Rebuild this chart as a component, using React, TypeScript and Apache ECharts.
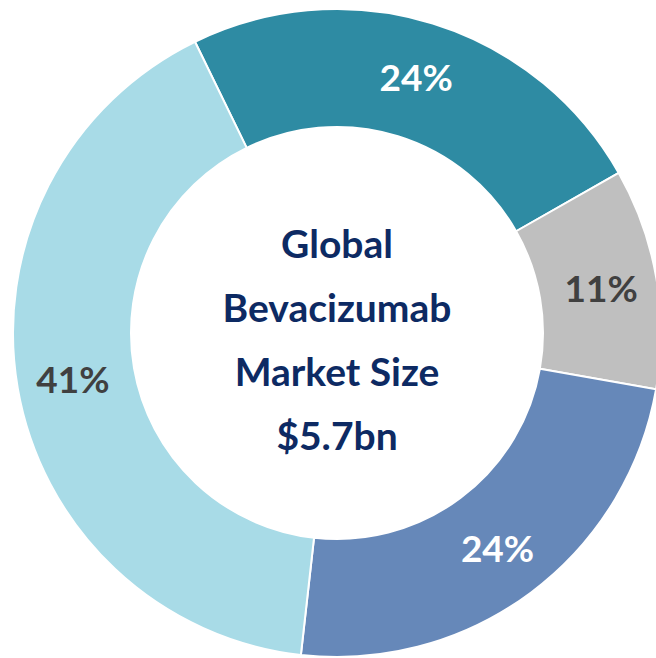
import React, { useEffect, useRef } from "react";
import * as echarts from "echarts";

const categories = ["Segment A", "Segment B", "Segment C", "Segment D"];
const values = [24, 11, 24, 41];
const sliceColors = ["#2E8BA3", "#BFBFBF", "#6688B9", "#A8DBE7"];
const labelColors = ["#FFFFFF", "#404040", "#FFFFFF", "#404040"];
const centerLines = ["Global", "Bevacizumab", "Market Size", "$5.7bn"];

export default function App() {
  const ref = useRef<HTMLDivElement>(null);
  useEffect(() => {
    document.body.style.margin = "0";
    const chart = echarts.init(ref.current!, null, { renderer: "svg" });
    chart.setOption({
      animation: false,
      backgroundColor: "#FFFFFF",
      graphic: [
        {
          type: "text",
          x: 337,
          y: 339,
          style: {
            text: centerLines.join("\n"),
            fill: "#0D2A63",
            font: "bold 39px Lato",
            lineHeight: 64,
            align: "center",
            verticalAlign: "middle",
          },
        },
      ],
      series: [
        {
          type: "pie",
          center: [337, 333],
          radius: [206, 324],
          startAngle: 116,
          clockwise: true,
          avoidLabelOverlap: false,
          itemStyle: { borderColor: "#FFFFFF", borderWidth: 2 },
          label: {
            show: true,
            position: "inside",
            formatter: "{c}%",
            fontFamily: "Lato",
            fontWeight: "bold",
            fontSize: 37,
          },
          labelLine: { show: false },
          data: categories.map((name, i) => ({
            name,
            value: values[i],
            itemStyle: { color: sliceColors[i] },
            label: { color: labelColors[i] },
          })),
        },
      ],
    });
    return () => chart.dispose();
  }, []);
  return <div ref={ref} style={{ width: 656, height: 658 }} />;
}
